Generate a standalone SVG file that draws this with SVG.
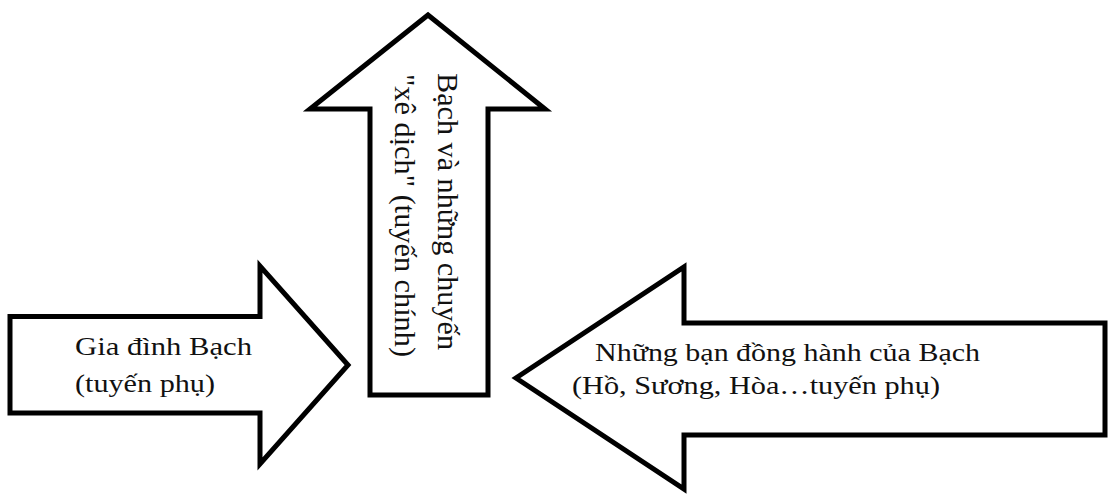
<svg xmlns="http://www.w3.org/2000/svg" width="1110" height="496" viewBox="0 0 1110 496">
  <style>
    .arrow { fill: #ffffff; stroke: #000000; stroke-width: 5; stroke-linejoin: miter; }
    .label { font-family: "Liberation Serif", "Times New Roman", serif; font-size: 26px; fill: #111111; }
  </style>
  <rect width="1110" height="496" fill="#ffffff"/>

  <!-- left block arrow pointing right -->
  <g id="gia-dinh">
    <path class="arrow" d="M10,316.5 H260 V266 L348,365 L260,464 V413 H10 Z"/>
    <text class="label" x="75" y="355" textLength="177" lengthAdjust="spacingAndGlyphs">Gia đình Bạch</text>
    <text class="label" x="75" y="392" textLength="140" lengthAdjust="spacingAndGlyphs">(tuyến phụ)</text>
  </g>

  <!-- central block arrow pointing up, vertical label -->
  <g id="xe-dich">
    <path class="arrow" d="M370,395 V109 H310 L428,15 L545,109 H488 V395 Z"/>
    <text class="label" transform="translate(438,73) rotate(90) scale(1,1.16)" x="0" y="0" textLength="277" lengthAdjust="spacingAndGlyphs">Bạch và những chuyến</text>
    <text class="label" transform="translate(395,74) rotate(90) scale(1,1.16)" x="0" y="0" textLength="283" lengthAdjust="spacingAndGlyphs">"xê dịch" (tuyến chính)</text>
  </g>

  <!-- right block arrow pointing left -->
  <g id="ban-dong-hanh">
    <path class="arrow" d="M1105,323 H684 V267 L516,378 L684,489 V435 H1105 Z"/>
    <text class="label" x="595" y="361" textLength="385" lengthAdjust="spacingAndGlyphs">Những bạn đồng hành của Bạch</text>
    <text class="label" x="572" y="394" textLength="368" lengthAdjust="spacingAndGlyphs">(Hồ, Sương, Hòa…tuyến phụ)</text>
  </g>
</svg>
